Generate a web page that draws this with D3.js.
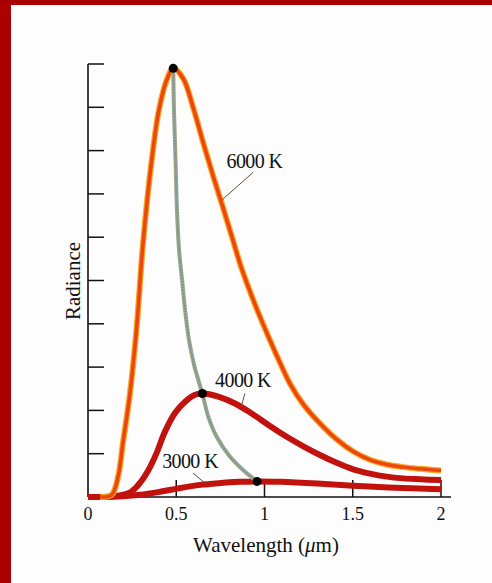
<!DOCTYPE html>
<html>
<head>
<meta charset="utf-8">
<script src="https://cdn.jsdelivr.net/npm/d3@7"></script>
<style>
  body { margin: 0; background: #fcfdfc; }
  svg { display: block; }
</style>
</head>
<body>
<script>
		// wavelength (um) and radiance (arbitrary units, one per tick)
		var lam6000 = [0.07, 0.134, 0.17, 0.198, 0.238, 0.276, 0.312, 0.361, 0.402, 0.446, 0.483, 0.540, 0.597, 0.653, 0.710, 0.757, 0.814, 0.871, 0.946, 1.031, 1.088, 1.144, 1.220, 1.314, 1.409, 1.503, 1.598, 1.692, 1.786, 1.881, 2.0];
		var rad6000 = [0.0, 0.05, 0.46, 1.25, 2.4, 3.93, 5.87, 7.78, 8.94, 9.63, 9.90, 9.66, 8.98, 8.18, 7.40, 6.79, 6.03, 5.27, 4.45, 3.62, 3.10, 2.62, 2.14, 1.70, 1.33, 1.05, 0.86, 0.75, 0.69, 0.65, 0.61];

		var lam4000 = [0.10, 0.228, 0.285, 0.342, 0.389, 0.436, 0.493, 0.550, 0.606, 0.648, 0.738, 0.833, 0.927, 1.031, 1.126, 1.220, 1.314, 1.409, 1.503, 1.598, 1.692, 1.786, 1.881, 2.0];
		var rad4000 = [0.0, 0.085, 0.28, 0.62, 1.02, 1.51, 1.94, 2.20, 2.36, 2.39, 2.32, 2.16, 1.93, 1.64, 1.39, 1.17, 0.97, 0.79, 0.64, 0.54, 0.47, 0.43, 0.41, 0.39];

		var lam3000 = [0.0, 0.17, 0.295, 0.408, 0.512, 0.635, 0.738, 0.861, 0.958, 1.088, 1.3, 1.5, 1.7, 2.0];
		var rad3000 = [0.0, 0.01, 0.05, 0.12, 0.20, 0.28, 0.32, 0.35, 0.36, 0.35, 0.31, 0.26, 0.22, 0.18];

		// line through the peaks
		var lamPeak = [0.483, 0.487, 0.496, 0.504, 0.516, 0.533, 0.550, 0.572, 0.601, 0.625, 0.648, 0.682, 0.729, 0.805, 0.880, 0.958];
		var radPeak = [9.90, 8.94, 7.78, 6.63, 5.70, 5.01, 4.32, 3.63, 3.05, 2.70, 2.39, 1.85, 1.39, 0.93, 0.62, 0.36];

		var dotLam = [0.483, 0.648, 0.958];
		var dotRad = [9.90, 2.39, 0.36];

		var xTicks = [0, 0.5, 1, 1.5, 2];
		var xTickLabels = ['0', '0.5', '1', '1.5', '2'];
		var yTicks = [1, 2, 3, 4, 5, 6, 7, 8, 9, 10];

		var labels = ['6000 K', '4000 K', '3000 K'];
		var labelLam = [0.785, 0.72, 0.42];
		var labelRad = [7.6, 2.54, 0.67];
		// leader lines [from, to] in data units
		var leaderLam = [[0.936, 0.759], [0.889, 0.867], [0.595, 0.663]];
		var leaderRad = [[7.5, 6.86], [2.39, 2.07], [0.55, 0.32]];

		var w = 492;
		var h = 583;
		var serif = '"Liberation Serif", "Times New Roman", serif';

		var svg = d3.select('body')
			.append('svg')
			.attr('width', w)
			.attr('height', h);

		svg.append('rect').attr('width', w).attr('height', h).attr('fill', '#fcfdfc');
		// red frame on the left and top
		svg.append('rect').attr('x', 0).attr('y', 0).attr('width', 11).attr('height', h).attr('fill', '#ad0000');
		svg.append('rect').attr('x', 0).attr('y', 0).attr('width', w).attr('height', 5).attr('fill', '#a80000');

		var x = d3.scaleLinear().domain([0, 2]).range([88, 441]);
		var y = d3.scaleLinear().domain([0, 10]).range([497, 64]);

		var line = d3.line()
			.x(function(d){ return x(d[0]); })
			.y(function(d){ return y(d[1]); })
			.curve(d3.curveCatmullRom.alpha(0.5));

		function pairs(a, b){
			return a.map(function(d, i){ return [d, b[i]]; });
		}

		// axes
		var g = svg.append('g');
		g.append('line')
			.attr('x1', x(0)).attr('x2', x(0))
			.attr('y1', y(10)).attr('y2', y(0))
			.attr('stroke', '#111').attr('stroke-width', 1.6);
		g.append('line')
			.attr('x1', x(0)).attr('x2', x(2) + 10)
			.attr('y1', y(0)).attr('y2', y(0))
			.attr('stroke', '#111').attr('stroke-width', 1.6);
		g.selectAll('.ytick')
			.data(yTicks)
			.enter()
			.append('line')
			.attr('class', 'ytick')
			.attr('x1', x(0)).attr('x2', x(0) + 16)
			.attr('y1', function(d){ return y(d); })
			.attr('y2', function(d){ return y(d); })
			.attr('stroke', '#111').attr('stroke-width', 1.5);
		g.selectAll('.xtick')
			.data(xTicks.slice(1))
			.enter()
			.append('line')
			.attr('class', 'xtick')
			.attr('x1', function(d){ return x(d); })
			.attr('x2', function(d){ return x(d); })
			.attr('y1', y(0)).attr('y2', y(0) - 17)
			.attr('stroke', '#111').attr('stroke-width', 1.5);
		g.selectAll('.xlab')
			.data(xTicks)
			.enter()
			.append('text')
			.attr('class', 'xlab')
			.attr('x', function(d){ return x(d); })
			.attr('y', 520)
			.attr('text-anchor', 'middle')
			.attr('font-family', serif)
			.attr('font-size', 18)
			.attr('fill', '#111')
			.text(function(d, i){ return xTickLabels[i]; });

		var xl = svg.append('text')
			.attr('x', 266)
			.attr('y', 552)
			.attr('text-anchor', 'middle')
			.attr('font-family', serif)
			.attr('font-size', 21)
			.attr('fill', '#111');
		xl.append('tspan').text('Wavelength (');
		xl.append('tspan').attr('font-style', 'italic').text('\u03bc');
		xl.append('tspan').text('m)');

		svg.append('text')
			.attr('transform', 'translate(80,281) rotate(-90)')
			.attr('text-anchor', 'middle')
			.attr('font-family', serif)
			.attr('font-size', 21)
			.attr('fill', '#111')
			.text('Radiance');

		// curves
		svg.append('path')
			.datum(pairs(lam3000, rad3000))
			.attr('d', line)
			.attr('fill', 'none').attr('stroke', '#c2120e').attr('stroke-width', 6);
		svg.append('path')
			.datum(pairs(lam4000, rad4000))
			.attr('d', line)
			.attr('fill', 'none').attr('stroke', '#c2120e').attr('stroke-width', 6);
		svg.append('path')
			.datum(pairs(lam6000, rad6000))
			.attr('d', line)
			.attr('fill', 'none').attr('stroke', '#f6a623').attr('stroke-width', 6);
		svg.append('path')
			.datum(pairs(lam6000, rad6000))
			.attr('d', line)
			.attr('fill', 'none').attr('stroke', '#ec4510').attr('stroke-width', 3.5);

		// peak locus, speckled grey-green
		svg.append('path')
			.datum(pairs(lamPeak, radPeak))
			.attr('d', line)
			.attr('fill', 'none').attr('stroke', '#9aa48c').attr('stroke-width', 4);
		svg.append('path')
			.datum(pairs(lamPeak, radPeak))
			.attr('d', line)
			.attr('fill', 'none').attr('stroke', '#5d8fa0').attr('stroke-width', 1.5)
			.attr('stroke-dasharray', '1 2');

		svg.selectAll('.peak')
			.data(dotLam)
			.enter()
			.append('circle')
			.attr('class', 'peak')
			.attr('cx', function(d){ return x(d); })
			.attr('cy', function(d, i){ return y(dotRad[i]); })
			.attr('r', 4.5)
			.attr('fill', '#000');

		// labels with leader lines
		svg.selectAll('.leader')
			.data(labels)
			.enter()
			.append('line')
			.attr('class', 'leader')
			.attr('x1', function(d, i){ return x(leaderLam[i][0]); })
			.attr('x2', function(d, i){ return x(leaderLam[i][1]); })
			.attr('y1', function(d, i){ return y(leaderRad[i][0]); })
			.attr('y2', function(d, i){ return y(leaderRad[i][1]); })
			.attr('stroke', '#6a4a40').attr('stroke-width', 1);
		svg.selectAll('.lab')
			.data(labels)
			.enter()
			.append('text')
			.attr('class', 'lab')
			.attr('x', function(d, i){ return x(labelLam[i]); })
			.attr('y', function(d, i){ return y(labelRad[i]); })
			.attr('font-family', serif)
			.attr('font-size', 20)
			.attr('letter-spacing', -0.6)
			.attr('fill', '#111')
			.text(function(d){ return d; });
</script>
</body>
</html>
